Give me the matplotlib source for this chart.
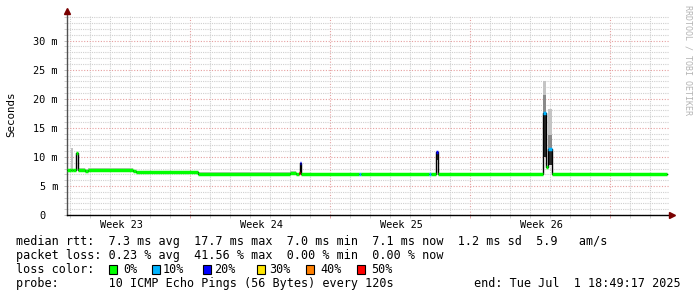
import numpy as np
import matplotlib
matplotlib.use("Agg")
import matplotlib.pyplot as plt
from matplotlib.patches import Rectangle
from matplotlib.lines import Line2D

# ---------------- data (time in days since graph start) ----------------
seg_t = [0.00, 0.20, 0.30, 0.45, 0.55, 0.90, 1.05, 3.30, 3.45, 6.55, 11.15, 11.45,
         11.60, 11.65, 11.72, 14.60, 14.70, 18.10, 18.20, 18.45, 18.55, 23.80,
         23.97, 24.07, 24.23, 30.00]
median_ms = [7.8, 7.8, 7.8, 10.6, 7.8, 7.65, 7.8, 7.55, 7.35, 7.1, 7.3, 7.1,
             7.2, 8.9, 7.05, 7.05, 7.05, 7.05, 7.05, 10.8, 7.0, 17.6,
             8.2, 11.3, 7.0]
loss_pct = [0, 0, 0, 0, 0, 0, 0, 0, 0, 0, 0, 0,
            50, 20, 0, 10, 0, 10, 0, 20, 0, 10,
            0, 10, 0]
smoke_lo = [7.8, 7.8, 7.8, 10.6, 7.8, 7.65, 7.8, 7.55, 7.35, 7.1, 7.3, 7.1,
            7.2, 8.9, 7.05, 7.05, 7.05, 7.05, 7.05, 9.5, 7.0, 10.0,
            8.2, 8.6, 7.0]
smoke_light_top = [8.0, 11.5, 8.0, 10.6, 8.1, 7.9, 8.1, 7.8, 7.6, 7.35, 7.5, 7.3,
                   7.4, 8.9, 7.3, 7.3, 7.3, 7.3, 7.3, 10.8, 7.25, 23.1,
                   8.2, 18.2, 7.25]
smoke_mid_top = [7.8, 7.8, 7.8, 10.6, 7.8, 7.65, 7.8, 7.55, 7.35, 7.1, 7.3, 7.1,
                 7.2, 8.9, 7.05, 7.05, 7.05, 7.05, 7.05, 10.8, 7.0, 20.6,
                 8.2, 13.8, 7.0]
smoke_dark_top = [7.8, 7.8, 7.8, 10.6, 7.8, 7.65, 7.8, 7.55, 7.35, 7.1, 7.3, 7.1,
                  7.2, 8.9, 7.05, 7.05, 7.05, 7.05, 7.05, 10.8, 7.0, 17.6,
                  8.2, 11.3, 7.0]

loss_levels = [0, 10, 20, 30, 40, 50]
loss_colors = ['#00ff00', '#00b4ff', '#0000ff', '#ffe600', '#ff8000', '#ff0000']

y_ticks = [0, 5, 10, 15, 20, 25, 30]
y_ticklabels = ['0  ', '5 m', '10 m', '15 m', '20 m', '25 m', '30 m']
week_labels = ['Week 23', 'Week 24', 'Week 25', 'Week 26']

legend_lines = [
    "median rtt:  7.3 ms avg  17.7 ms max  7.0 ms min  7.1 ms now  1.2 ms sd  5.9   am/s",
    "packet loss: 0.23 % avg  41.56 % max  0.00 % min  0.00 % now",
]
probe_text = "probe:       10 ICMP Echo Pings (56 Bytes) every 120s"
end_text = "end: Tue Jul  1 18:49:17 2025"

# ---------------- figure ----------------
W, H = 697, 297
def fx(x): return x / W
def fy(y): return 1 - y / H

MONO = 'DejaVu Sans Mono'
fig = plt.figure(figsize=(W / 100, H / 100), dpi=100, facecolor='white')
ax = fig.add_axes([fx(67), fy(215), (669 - 67) / W, (215 - 14.5) / H])
ax.set_facecolor('white')
ax.set_xlim(0, 30.1)
ax.set_ylim(0, 34.5)

# grid: daily minor, weekly major (weeks start at day offset 6.15)
day_grid = [0.15 + k for k in range(30) if (k - 6) % 7 != 0]
week_grid = [6.15 + 7 * k for k in range(4)]
ax.set_xticks(week_grid)
ax.set_xticklabels([])
ax.set_xticks(day_grid, minor=True)
ax.set_yticks(y_ticks)
ax.set_yticklabels(y_ticklabels, fontfamily=MONO, fontsize=7.4)
ax.set_yticks([v for v in range(0, 35) if v % 5 != 0], minor=True)

ax.grid(True, which='minor', color='#d0d0d0', linestyle=(0, (1, 1)), linewidth=0.8)
ax.grid(True, which='major', color='#e6a0a0', linestyle=(0, (1, 1.5)), linewidth=0.8)
ax.set_axisbelow(True)
ax.tick_params(which='minor', direction='out', length=2.5, color='#d0d0d0', width=0.7)
ax.tick_params(which='major', direction='out', length=2.5, color='#e6a0a0', width=0.7)
ax.tick_params(axis='y', which='major', color='#c0c0c0', pad=4)
for s in ['top', 'right']:
    ax.spines[s].set_visible(False)
ax.spines['left'].set_color('#505050')
ax.spines['bottom'].set_color('black')
ax.spines['left'].set_linewidth(1.0)
ax.spines['bottom'].set_linewidth(1.0)

# week labels via secondary axis
sec = ax.secondary_xaxis('bottom')
sec.set_xticks([w - 3.45 for w in week_grid])
sec.set_xticklabels(week_labels, fontfamily=MONO, fontsize=7.4)
sec.tick_params(length=0, pad=3.5)
sec.spines['bottom'].set_visible(False)

# smoke
def ext(a):
    return np.append(np.asarray(a, float), a[-1])
t = np.asarray(seg_t, float)
ax.fill_between(t, ext(smoke_lo), ext(smoke_light_top), step='post', color='#c4c4c4', lw=0, zorder=2)
ax.fill_between(t, ext(smoke_lo), ext(smoke_mid_top), step='post', color='#8a8a8a', lw=0, zorder=2)
ax.fill_between(t, ext(smoke_lo), ext(smoke_dark_top), step='post', color='#2a2a2a', lw=0, zorder=2)

# median line: black step + loss-colored segments
ax.step(t, ext(median_ms), where='post', color='black', lw=1.0, zorder=3)
for i, m in enumerate(median_ms):
    c = loss_colors[loss_levels.index(loss_pct[i])]
    ax.hlines(m, seg_t[i], seg_t[i + 1], colors=c, lw=2.5, zorder=4)

# axis arrows
fig.add_artist(Line2D([fx(67)], [fy(10.5)], marker='^', ms=4.5, color='#7a0000', mec='#7a0000'))
fig.add_artist(Line2D([fx(672)], [fy(215)], marker='>', ms=4.5, color='#7a0000', mec='#7a0000'))

# labels
fig.text(fx(11), fy(114), 'Seconds', rotation=90, ha='center', va='center',
         fontfamily=MONO, fontsize=7.8, color='black')
fig.text(fx(688), fy(60), 'RRDTOOL / TOBI OETIKER', rotation=270, ha='center', va='center',
         fontfamily=MONO, fontsize=6, color='#b4b4b4')

# legend text
ys = [241.5, 255.5, 269.5, 283.5]
for line, y in zip(legend_lines, ys[:2]):
    fig.text(fx(16), fy(y), line, ha='left', va='center', fontfamily=MONO, fontsize=8.5)
fig.text(fx(16), fy(ys[2]), 'loss color:', ha='left', va='center', fontfamily=MONO, fontsize=8.5)
sq_x = [109, 152, 203, 257, 306, 357]
tx_x = [123, 163, 214, 269, 320, 371]
for lv, c, sx, tx in zip(loss_levels, loss_colors, sq_x, tx_x):
    fig.add_artist(Rectangle((fx(sx), fy(ys[2] + 4.5)), 8 / W, 9 / H, transform=fig.transFigure,
                             facecolor=c, edgecolor='black', lw=0.8))
    fig.text(fx(tx), fy(ys[2]), f'{lv}%', ha='left', va='center', fontfamily=MONO, fontsize=8.5)
fig.text(fx(16), fy(ys[3]), probe_text, ha='left', va='center', fontfamily=MONO, fontsize=8.5)
fig.text(fx(681), fy(ys[3]), end_text, ha='right', va='center', fontfamily=MONO, fontsize=8.5)

fig.savefig('out.png', dpi=100, facecolor='white')
